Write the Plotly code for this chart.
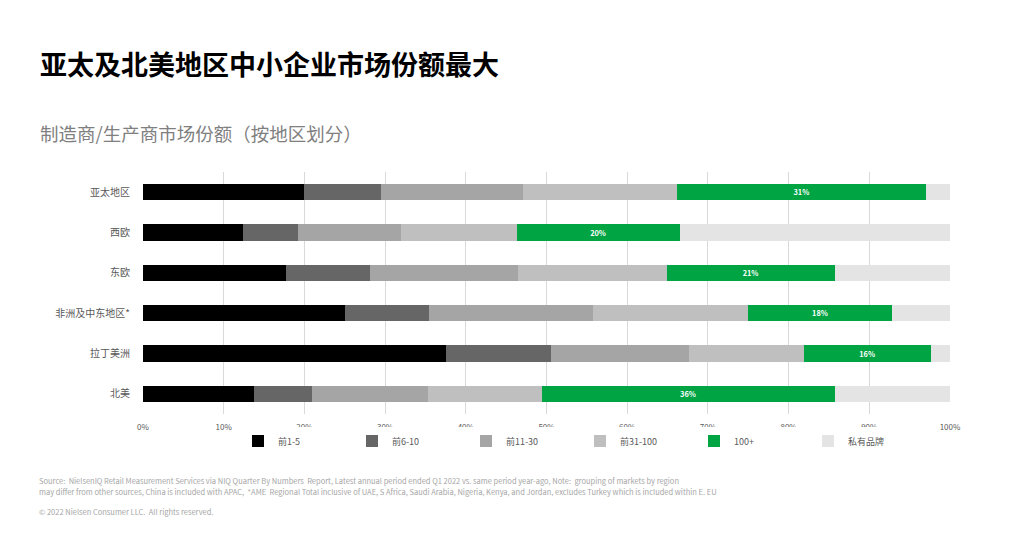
"""
Stacked share bar chart: manufacturer / producer market share by region.
"""

import plotly.graph_objects as go

# ---- data (percent of each region) ----
regions = ["亚太地区", "西欧", "东欧", "非洲及中东地区*", "拉丁美洲", "北美"]

top_1_5 = [20.0, 12.4, 17.7, 25.0, 37.6, 13.7]
top_6_10 = [9.5, 6.8, 10.4, 10.5, 12.9, 7.3]
top_11_30 = [17.6, 12.8, 18.4, 20.3, 17.2, 14.3]
top_31_100 = [19.1, 14.3, 18.4, 19.2, 14.2, 14.1]
top_100_plus = [30.8, 20.2, 20.8, 17.8, 15.7, 36.3]
private_label = [3.0, 33.5, 14.3, 7.2, 2.4, 14.3]

series_names = ["前1-5", "前6-10", "前11-30", "前31-100", "100+", "私有品牌"]
x_ticks = [0, 10, 20, 30, 40, 50, 60, 70, 80, 90, 100]
x_tick_labels = ["0%", "10%", "20%", "30%", "40%", "50%", "60%", "70%", "80%", "90%", "100%"]

title_text = "亚太及北美地区中小企业市场份额最大"
subtitle_text = "制造商/生产商市场份额（按地区划分）"
source_lines = [
    "Source:  NielsenIQ Retail Measurement Services via NIQ Quarter By Numbers  Report, Latest annual period ended Q1 2022 vs. same period year-ago, Note:  grouping of markets by region",
    "may differ from other sources, China is included with APAC,  *AME  Regional Total inclusive of UAE, S Africa, Saudi Arabia, Nigeria, Kenya, and Jordan, excludes Turkey which is included within E. EU",
]
copyright_text = "© 2022 Nielsen Consumer LLC.  All rights reserved."

# ---- styling ----
colors = ["#000000", "#666666", "#A5A5A5", "#BFBFBF", "#00A443", "#E4E4E4"]
FONT = "Noto Sans CJK SC"

# the page body adds an 8px offset, so the figure is drawn 8px smaller
OFF = 8
W, H = 1024 - OFF, 535 - OFF
ML, MR, MT, MB = 143 - OFF, 74, 172 - OFF, 121
PW, PH = W - ML - MR, H - MT - MB


def px_x(x):
    """window pixel x -> paper x"""
    return (x - OFF - ML) / PW


def px_y(y):
    """window pixel y (from top) -> paper y"""
    return (H - MB - (y - OFF)) / PH


fig = go.Figure()

all_series = [top_1_5, top_6_10, top_11_30, top_31_100, top_100_plus, private_label]
for name, values, color in zip(series_names, all_series, colors):
    is_green = name == "100+"
    fig.add_trace(
        go.Bar(
            y=regions,
            x=values,
            name=name,
            orientation="h",
            marker=dict(color=color, line=dict(width=0)),
            texttemplate="<b>%{x:.0f}%</b>" if is_green else None,
            textposition="inside" if is_green else "none",
            insidetextanchor="middle",
            textfont=dict(family=FONT, size=8, color="white"),
            hoverinfo="name+x",
        )
    )

fig.update_layout(
    width=W,
    height=H,
    barmode="stack",
    bargap=0.6,
    plot_bgcolor="white",
    paper_bgcolor="white",
    margin=dict(l=ML, r=MR, t=MT, b=MB),
    font=dict(family=FONT, color="#595959"),
    xaxis=dict(
        range=[0, 100],
        tickvals=x_ticks,
        ticktext=x_tick_labels,
        tickfont=dict(size=8, color="#595959"),
        showgrid=True,
        gridcolor="#D9D9D9",
        gridwidth=1,
        zeroline=False,
        showline=False,
        ticklabelstandoff=7,
        fixedrange=True,
    ),
    yaxis=dict(
        autorange="reversed",
        tickfont=dict(size=10, color="#595959"),
        showgrid=False,
        ticklabelstandoff=12,
        fixedrange=True,
    ),
    legend=dict(
        orientation="h",
        traceorder="normal",
        x=px_x(238),
        xanchor="left",
        y=px_y(441),
        yanchor="middle",
        font=dict(size=9, color="#595959"),
        entrywidth=69,
        entrywidthmode="pixels",
        itemclick=False,
        itemdoubleclick=False,
    ),
    showlegend=True,
)

annotations = [
    dict(text="<b>" + title_text + "</b>", x=px_x(38), y=px_y(63),
         font=dict(size=27, color="#000000", family=FONT)),
    dict(text=subtitle_text, x=px_x(38), y=px_y(133),
         font=dict(size=18.5, color="#7F7F7F", family=FONT)),
    dict(text=source_lines[0], x=px_x(37), y=px_y(480),
         font=dict(size=7.5, color="#A6A6A6", family=FONT)),
    dict(text=source_lines[1], x=px_x(37), y=px_y(491),
         font=dict(size=7.5, color="#A6A6A6", family=FONT)),
    dict(text=copyright_text, x=px_x(37), y=px_y(511),
         font=dict(size=7.5, color="#A6A6A6", family=FONT)),
]
for a in annotations:
    fig.add_annotation(
        xref="paper", yref="paper", xanchor="left", yanchor="middle",
        showarrow=False, **a
    )

fig.write_html("out.html")
